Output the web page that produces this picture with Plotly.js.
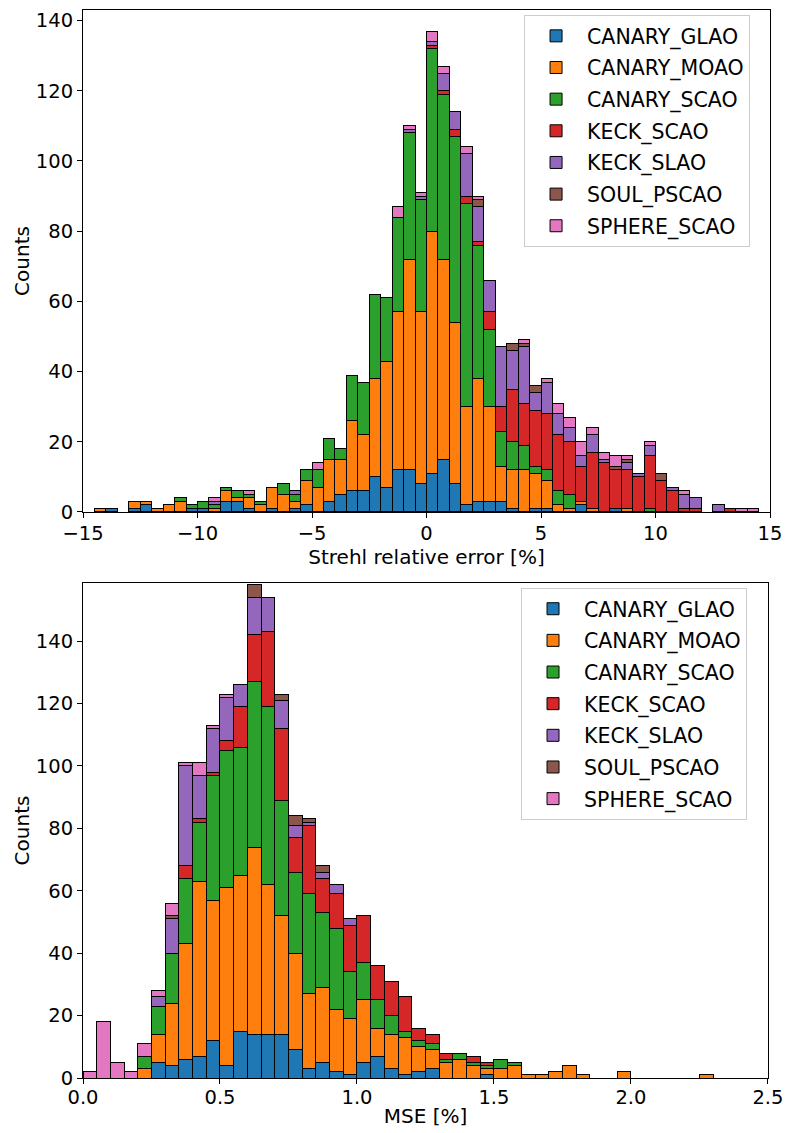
<!DOCTYPE html>
<html><head><meta charset="utf-8">
<script src="https://cdn.plot.ly/plotly-3.0.1.min.js"></script>
<style>html,body{margin:0;padding:0;background:#fff}#chart{width:785px;height:1133px}</style>
</head><body><div id="chart"></div>
<script>
// ---------- data ----------
const seriesNames = ['CANARY_GLAO','CANARY_MOAO','CANARY_SCAO','KECK_SCAO','KECK_SLAO','SOUL_PSCAO','SPHERE_SCAO'];

// Top panel: Strehl relative error [%], bins of 0.5 from -15 to 15 (60 bins)
const topBinStart = -15, topBinWidth = 0.5;
const topGLAO  = [0,0,1,0,1,2,0,0,0,1, 1,0,3,3,1,0,1,0,1,2, 0,3,5,6,6,10,7,12,12,8, 11,15,8,2,3,3,3,1,0,1, 1,0,0,2,0,0,1,0,0,0, 0,0,0,0,0,0,0,0,0,0];
const topMOAO  = [0,1,0,0,2,1,1,2,3,0, 0,1,3,1,3,2,6,5,2,7, 7,12,10,20,16,28,36,45,60,49, 69,57,46,28,35,27,10,11,12,10, 8,2,1,1,1,0,0,1,0,0, 0,0,0,0,0,0,0,0,0,0];
const topCSCAO = [0,0,0,0,0,0,0,0,1,1, 2,1,1,2,1,1,0,3,2,3, 5,6,3,13,15,24,18,27,36,32, 52,47,53,58,38,22,10,8,7,2, 3,4,4,0,0,0,0,0,0,1, 0,0,0,0,0,0,0,0,0,0];
const topKSCAO = [0,0,0,0,0,0,0,0,0,0, 0,0,0,0,0,0,0,0,0,0, 0,0,0,0,0,0,0,0,0,0, 1,1,2,2,1,5,7,15,12,16, 16,16,15,10,16,14,11,11,10,15, 9,6,1,1,0,0,1,0,0,0];
const topKSLAO = [0,0,0,0,0,0,0,0,0,0, 0,1,0,0,0,0,0,0,1,0, 0,0,0,0,0,0,0,0,1,1, 1,5,5,12,10,9,17,11,16,5, 9,6,4,3,5,1,0,2,1,3, 0,1,4,3,0,2,0,0,0,0];
const topSOUL  = [0,0,0,0,0,0,0,0,0,0, 0,0,0,0,0,0,0,0,0,0, 0,0,0,0,0,0,0,0,0,0, 0,0,0,0,2,0,0,2,1,2, 0,0,0,0,0,0,1,1,0,0, 2,0,0,0,0,0,0,0,0,0];
const topSPHERE= [0,0,0,0,0,0,0,0,0,0, 0,1,0,0,1,0,0,0,0,0, 2,0,0,0,0,0,0,3,1,1, 3,2,0,2,1,0,0,0,1,0, 1,3,3,4,2,2,3,1,0,1, 0,0,1,0,0,0,0,1,1,0];

// Bottom panel: MSE [%], bins of 0.05 from 0 to 2.5 (50 bins)
const botBinStart = 0, botBinWidth = 0.05;
const botGLAO  = [0,0,0,0,0,5,4,6,7,12, 4,15,14,14,14,9,3,5,2,1, 5,7,3,1,2,3,0,0,0,1, 0,0,0,0,0,0,0,0,0,0, 0,0,0,0,0,0,0,0,0,0];
const botMOAO  = [0,0,0,0,3,9,20,37,56,45, 57,50,60,48,38,31,24,24,20,18, 20,9,11,12,8,6,5,6,4,2, 3,4,1,1,2,4,1,0,0,2, 0,0,0,0,0,1,0,0,0,0];
const botCSCAO = [0,0,0,0,4,9,16,21,19,40, 44,41,53,57,37,26,32,24,26,15, 12,9,6,2,2,2,1,2,1,1, 3,1,0,0,0,0,0,0,0,0, 0,0,0,0,0,0,0,0,0,0];
const botKSCAO = [0,0,0,0,0,0,0,4,1,1, 3,13,15,24,23,11,22,11,11,15, 15,11,11,11,4,3,2,0,2,1, 0,0,0,0,0,0,0,0,0,0, 0,0,0,0,0,0,0,0,0,0];
const botKSLAO = [0,0,0,0,0,3,11,32,14,14, 14,7,12,11,9,4,1,2,3,2, 0,0,0,0,0,0,0,0,0,0, 0,0,0,0,0,0,0,0,0,0, 0,0,0,0,0,0,0,0,0,0];
const botSOUL  = [0,0,0,0,0,0,1,0,0,0, 0,0,4,0,2,3,1,2,0,0, 0,0,0,0,0,0,0,0,0,0, 0,0,0,0,0,0,0,0,0,0, 0,0,0,0,0,0,0,0,0,0];
const botSPHERE= [2,18,5,2,4,2,4,1,4,1, 1,0,0,0,0,0,0,0,0,0, 0,0,0,0,0,0,0,0,0,0, 0,0,0,0,0,0,0,0,0,0, 0,0,0,0,0,0,0,0,0,0];

const topTicks = [-15,-10,-5,0,5,10,15];
const botTicks = [0,0.5,1,1.5,2,2.5];
const countTicks = [0,20,40,60,80,100,120,140];

// ---------- styles ----------
const colors = ['#1f77b4','#ff7f0e','#2ca02c','#d62728','#9467bd','#8c564b','#e377c2'];

const topSeries = [topGLAO, topMOAO, topCSCAO, topKSCAO, topKSLAO, topSOUL, topSPHERE];
const botSeries = [botGLAO, botMOAO, botCSCAO, botKSCAO, botKSLAO, botSOUL, botSPHERE];

function centers(start, width, n) {
  const c = [];
  for (let i = 0; i < n; i++) c.push(start + width * (i + 0.5));
  return c;
}
const topX = centers(topBinStart, topBinWidth, topGLAO.length);
const botX = centers(botBinStart, botBinWidth, botGLAO.length);

const traces = [];
seriesNames.forEach((name, k) => {
  traces.push({
    type: 'bar', name: name, x: topX, y: topSeries[k].map(v => v === 0 ? null : v),
    width: topBinWidth, xaxis: 'x', yaxis: 'y', legend: 'legend', legendgroup: 'a' + k,
    marker: {color: colors[k], line: {color: '#000', width: 1}}, hoverinfo: 'skip'
  });
});
seriesNames.forEach((name, k) => {
  traces.push({
    type: 'bar', name: name, x: botX, y: botSeries[k].map(v => v === 0 ? null : v),
    width: botBinWidth, xaxis: 'x2', yaxis: 'y2', legend: 'legend2', legendgroup: 'b' + k,
    marker: {color: colors[k], line: {color: '#000', width: 1}}, hoverinfo: 'skip'
  });
});

const axBase = {
  ticks: 'outside', ticklen: 5, tickwidth: 1, tickcolor: '#000',
  showline: true, linecolor: '#000', linewidth: 1, mirror: true,
  showgrid: false, zeroline: false, tickfont: {size: 19.5}
};
const yBase = Object.assign({}, axBase, {ticklabelstandoff: 0});
const legBase = {
  xanchor: 'left', yanchor: 'top', bordercolor: '#cccccc', borderwidth: 1,
  bgcolor: 'rgba(255,255,255,0.85)', traceorder: 'grouped', tracegroupgap: 2,
  itemwidth: 52, font: {size: 20.5, color: '#000'}
};
const titleFont = {size: 20, color: '#000'};

const layout = {
  width: 785, height: 1133,
  margin: {l: 83, r: 15, t: 10, b: 55},
  paper_bgcolor: '#fff', plot_bgcolor: '#fff',
  font: {family: 'DejaVu Sans', size: 20, color: '#000'},
  barmode: 'stack', bargap: 0, showlegend: true,
  xaxis: Object.assign({}, axBase, {ticklabelstandoff: -1, domain: [0, 1], anchor: 'y', range: [-15, 15], tickvals: topTicks,
    title: {text: 'Strehl relative error [%]', standoff: 0, font: titleFont}}),
  yaxis: Object.assign({}, yBase, {domain: [0.53, 1], anchor: 'x', range: [0, 143], tickvals: countTicks,
    title: {text: 'Counts', standoff: 0, font: titleFont}}),
  xaxis2: Object.assign({}, axBase, {ticklabelstandoff: -3, domain: [0, 0.997], anchor: 'y2', range: [0, 2.5], tickvals: botTicks, tickformat: '.1f',
    title: {text: 'MSE [%]', standoff: 0, font: titleFont}}),
  yaxis2: Object.assign({}, yBase, {domain: [0, 0.4635], anchor: 'x2', range: [0, 158.6], tickvals: countTicks,
    title: {text: 'Counts', standoff: 0, font: titleFont}}),
  legend: Object.assign({}, legBase, {x: 0.642, y: 0.9953}),
  legend2: Object.assign({}, legBase, {x: 0.6376, y: 0.4589})
};

Plotly.newPlot('chart', traces, layout, {staticPlot: true, displayModeBar: false});
</script>
</body></html>
